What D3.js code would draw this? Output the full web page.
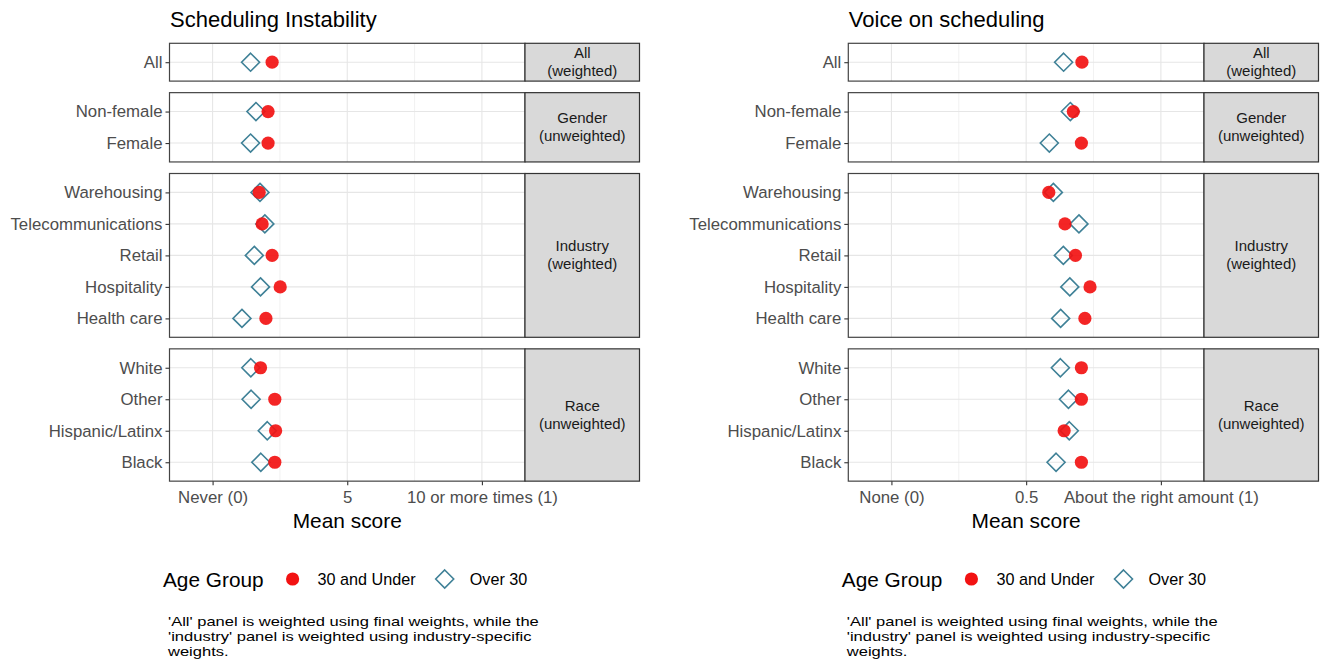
<!DOCTYPE html>
<html><head><meta charset="utf-8">
<script src="https://cdn.jsdelivr.net/npm/d3@7"></script>
<style>
body{margin:0;background:#fff;}
svg{display:block;font-family:"Liberation Sans",Arial,Helvetica,sans-serif;}
</style>
</head><body>
<svg id="chart" width="1322" height="669"></svg>
<script>
// ---------------- data ----------------
const categories = ["All","Non-female","Female","Warehousing","Telecommunications","Retail","Hospitality","Health care","White","Other","Hispanic/Latinx","Black"];
const categoryPanel = [0,1,1,2,2,2,2,2,3,3,3,3];
const stripLine1 = ["All","Gender","Industry","Race"];
const stripLine2 = ["(weighted)","(unweighted)","(weighted)","(unweighted)"];

const instabilityUnder30 = [0.221,0.206,0.206,0.173,0.184,0.221,0.251,0.198,0.178,0.231,0.234,0.231];
const instabilityOver30  = [0.141,0.161,0.141,0.176,0.194,0.155,0.178,0.109,0.142,0.143,0.203,0.179];
const voiceUnder30 = [0.707,0.675,0.705,0.584,0.644,0.683,0.737,0.718,0.705,0.705,0.641,0.705];
const voiceOver30  = [0.639,0.664,0.586,0.601,0.696,0.638,0.662,0.628,0.627,0.657,0.660,0.611];

const tickValues = [0, 0.5, 1];
const minorTickValues = [0.25, 0.75];
const instabilityTickLabels = ["Never (0)", "5", "10 or more times (1)"];
const voiceTickLabels = ["None (0)", "0.5", "About the right amount (1)"];
const chartTitles = ["Scheduling Instability", "Voice on scheduling"];
const axisTitle = "Mean score";
const legendTitle = "Age Group";
const seriesNames = ["30 and Under", "Over 30"];
const captionLines = ["'All' panel is weighted using final weights, while the",
                      "'industry' panel is weighted using industry-specific",
                      "weights."];

// ---------------- layout ----------------
const svg = d3.select("#chart");
const RED = "#f21212", TEAL = "#3f8197";
const panelTop = 43.3, unit = 31.5, gap = 11.55, pad = 0.6;

const panels = [];
let yCursor = panelTop;
for (let p = 0; p < stripLine1.length; p++) {
  const cats = categories.filter((c, i) => categoryPanel[i] === p);
  const h = (cats.length - 1 + 2 * pad) * unit;
  const y = d3.scalePoint().domain(cats).range([yCursor, yCursor + h]).padding(pad);
  panels.push({top: yCursor, h, cats, y});
  yCursor += h + gap;
}
const plotBottom = panels[panels.length - 1].top + panels[panels.length - 1].h;

const charts = [
  {left: 169.5, right: 525, stripW: 114.5, title: chartTitles[0], ticks: instabilityTickLabels,
   under: instabilityUnder30, over: instabilityOver30},
  {left: 848.3, right: 1204, stripW: 114.5, title: chartTitles[1], ticks: voiceTickLabels,
   under: voiceUnder30, over: voiceOver30}
];

function diamondPath(cx, cy, s) {
  return `M${cx},${cy - s}L${cx + s},${cy}L${cx},${cy + s}L${cx - s},${cy}Z`;
}

charts.forEach(ch => {
  const g = svg.append("g");
  const x = d3.scaleLinear().domain([-0.16, 1.16]).range([ch.left, ch.right]);

  // title
  g.append("text").attr("x", ch.left + 0.5).attr("y", 27)
    .attr("font-size", 22).attr("fill", "#000").text(ch.title);

  panels.forEach((P, pi) => {
    const pg = g.append("g");
    pg.append("rect").attr("x", ch.left).attr("y", P.top)
      .attr("width", ch.right - ch.left).attr("height", P.h).attr("fill", "#fff");
    // minor grid
    pg.selectAll(".gmin").data(minorTickValues).join("line")
      .attr("x1", d => x(d)).attr("x2", d => x(d))
      .attr("y1", P.top).attr("y2", P.top + P.h)
      .attr("stroke", "#eeeeee").attr("stroke-width", 0.8);
    // major grid
    pg.selectAll(".gmaj").data(tickValues).join("line")
      .attr("x1", d => x(d)).attr("x2", d => x(d))
      .attr("y1", P.top).attr("y2", P.top + P.h)
      .attr("stroke", "#e6e6e6").attr("stroke-width", 1.1);
    pg.selectAll(".gy").data(P.cats).join("line")
      .attr("x1", ch.left).attr("x2", ch.right)
      .attr("y1", d => P.y(d)).attr("y2", d => P.y(d))
      .attr("stroke", "#e6e6e6").attr("stroke-width", 1.1);

    // points
    const idx = categories.map((c, i) => i).filter(i => categoryPanel[i] === pi);
    pg.selectAll(".dia").data(idx).join("path")
      .attr("d", i => diamondPath(x(ch.over[i]), P.y(categories[i]), 9))
      .attr("fill", "none").attr("stroke", TEAL).attr("stroke-width", 1.6);
    pg.selectAll(".dot").data(idx).join("circle")
      .attr("cx", i => x(ch.under[i])).attr("cy", i => P.y(categories[i]))
      .attr("r", 6.6).attr("fill", RED).attr("fill-opacity", 0.92);

    // border
    pg.append("rect").attr("x", ch.left).attr("y", P.top)
      .attr("width", ch.right - ch.left).attr("height", P.h)
      .attr("fill", "none").attr("stroke", "#444").attr("stroke-width", 1.2);

    // y axis
    const ya = d3.axisLeft(P.y).tickSize(4).tickPadding(3);
    const yg = pg.append("g").attr("transform", `translate(${ch.left},0)`).call(ya);
    yg.select(".domain").remove();
    yg.selectAll(".tick line").attr("stroke", "#333").attr("stroke-width", 1.1);
    yg.selectAll(".tick text").attr("font-size", 16.8).attr("fill", "#4d4d4d")
      .attr("font-family", "Liberation Sans, Arial, sans-serif");

    // strip
    pg.append("rect").attr("x", ch.right).attr("y", P.top)
      .attr("width", ch.stripW).attr("height", P.h)
      .attr("fill", "#d9d9d9").attr("stroke", "#333").attr("stroke-width", 1.2);
    const cx = ch.right + ch.stripW / 2, cy = P.top + P.h / 2;
    const st = pg.append("text").attr("text-anchor", "middle").attr("font-size", 15)
      .attr("fill", "#1a1a1a");
    st.append("tspan").attr("x", cx).attr("y", cy - 9 + 5).text(stripLine1[pi]);
    st.append("tspan").attr("x", cx).attr("y", cy + 9 + 5).text(stripLine2[pi]);
  });

  // x axis
  const xa = d3.axisBottom(x).tickValues(tickValues).tickSize(4).tickPadding(4)
    .tickFormat((d, i) => ch.ticks[i]);
  const xg = g.append("g").attr("transform", `translate(0,${plotBottom})`).call(xa);
  xg.select(".domain").remove();
  xg.selectAll(".tick line").attr("stroke", "#333").attr("stroke-width", 1.1);
  xg.selectAll(".tick text").attr("font-size", 16.8).attr("fill", "#4d4d4d")
    .attr("font-family", "Liberation Sans, Arial, sans-serif").attr("dy", "0.85em");

  g.append("text").attr("x", (ch.left + ch.right) / 2).attr("y", 528)
    .attr("text-anchor", "middle").attr("font-size", 20.9).attr("fill", "#000").text(axisTitle);

  // legend
  const ly = 580;
  const lt = g.append("text").attr("x", ch.left - 6.5).attr("y", ly + 7)
    .attr("font-size", 20.8).attr("fill", "#000").text(legendTitle);
  let lx = ch.left - 6.5 + lt.node().getComputedTextLength() + 29;
  g.append("circle").attr("cx", lx).attr("cy", ly - 1).attr("r", 6.6).attr("fill", RED);
  const l1 = g.append("text").attr("x", lx + 25).attr("y", ly + 5)
    .attr("font-size", 16.2).attr("fill", "#000").text(seriesNames[0]);
  lx = lx + 25 + l1.node().getComputedTextLength() + 29;
  g.append("path").attr("d", diamondPath(lx, ly - 1, 9))
    .attr("fill", "none").attr("stroke", TEAL).attr("stroke-width", 1.6);
  g.append("text").attr("x", lx + 25).attr("y", ly + 5)
    .attr("font-size", 16.2).attr("fill", "#000").text(seriesNames[1]);

  // caption (wide, tightly spaced lines)
  const capG = g.append("g").attr("transform", `translate(${ch.left - 1.5},0) scale(1.215,1)`);
  captionLines.forEach((t, i) => {
    capG.append("text").attr("x", 0).attr("y", 626 + i * 15.2)
      .attr("font-size", 13.6).attr("fill", "#000").text(t);
  });
});
</script>
</body></html>
